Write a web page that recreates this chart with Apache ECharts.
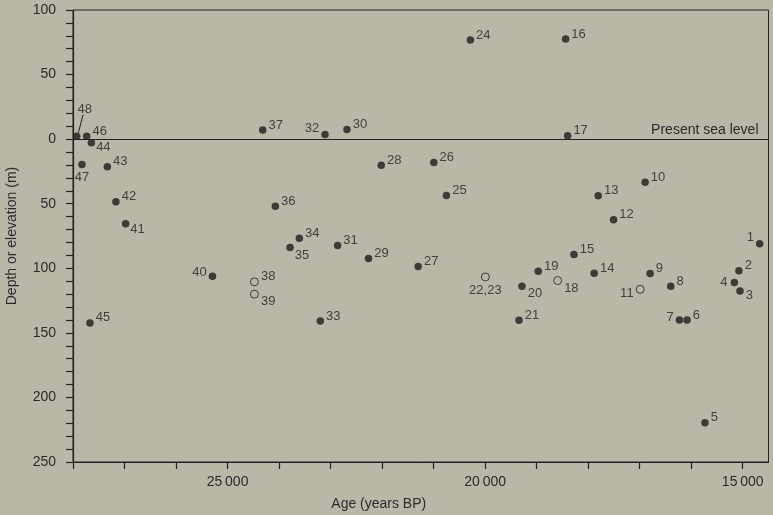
<!DOCTYPE html>
<html><head><meta charset="utf-8">
<script src="https://cdn.jsdelivr.net/npm/echarts@6/dist/echarts.min.js"></script>
<style>html,body{margin:0;padding:0;background:#bab7a8;}#c{width:773px;height:515px;}</style>
</head><body><div id="c"></div>
<script>
// ---- data ----
const pointLabels = ['1','2','3','4','5','6','7','8','9','10','11','12','13','14','15','16','17','18','19','20','21','22,23','24','25','26','27','28','29','30','31','32','33','34','35','36','37','38','39','40','41','42','43','44','45','46','47','48'];
const ages = [14672,15074,15054,15163,15733,16081,16229,16397,16798,16895,16992,17508,17806,17884,18277,18438,18399,18593,18969,19285,19343,19996,20287,20752,20996,21300,22017,22264,22682,22864,23109,23200,23607,23787,24072,24318,24479,24479,25293,26979,27167,27333,27643,27671,27734,27826,27928];
const depths = [-81,-102,-117.5,-111,-219.6,-140,-140,-114,-104,-33.3,-116.3,-62.5,-43.9,-103.9,-89.4,77.5,2.6,-109.5,-102.3,-114,-140.3,-106.7,76.7,-43.6,-18.1,-98.7,-20.2,-92.5,7.5,-82.4,3.6,-140.8,-76.7,-83.9,-51.9,7,-110.5,-120,-106.2,-65.6,-48.5,-21.4,-2.8,-142.3,2.3,-19.6,2.3];
const hollowPoints = ['11','18','22,23','38','39'];
const xTickValues = [15000,16000,17000,18000,19000,20000,21000,22000,23000,24000,25000,26000,27000,28000];
const xLabelValues = [15000,20000,25000];
const yLabelValues = [100,50,0,-50,-100,-150,-200,-250];
const seaLevelText = 'Present sea level';
const xAxisTitle = 'Age (years BP)';
const yAxisTitle = 'Depth or elevation (m)';
const leaderPoint = '48';

// ---- styles ----
const FONT = '"Liberation Sans", Arial, Helvetica, sans-serif';
const INK = '#222';
const labelStyleDefault = {position:'right', distance:2, offset:[0,-5]};
const labelStyles = {
  '1': {position:'left', distance:2, offset:[0,-6]},
  '3': {position:'right', distance:2, offset:[0,5]},
  '4': {position:'left', distance:3, offset:[0,0]},
  '7': {position:'left', distance:2, offset:[0,-3]},
  '11': {position:'left', distance:2, offset:[0,4]},
  '18': {position:'right', distance:2, offset:[0,8]},
  '20': {position:'right', distance:2, offset:[0,7]},
  '22,23': {position:'bottom', distance:2, offset:[0,0]},
  '32': {position:'left', distance:2, offset:[0,-6]},
  '35': {position:'right', distance:1, offset:[0,8]},
  '39': {position:'right', distance:2, offset:[0,7]},
  '40': {position:'left', distance:2, offset:[0,-4]},
  '41': {position:'right', distance:1, offset:[0,6]},
  '44': {position:'right', distance:1, offset:[0,5]},
  '47': {position:'bottom', distance:3, offset:[0,0]},
  '48': {position:'top', distance:4, offset:[8,-13]}
};

function item(i){
  const name = pointLabels[i];
  const ls = Object.assign({}, labelStyleDefault, labelStyles[name] || {});
  return {name:name, value:[ages[i], depths[i]], label:ls};
}
const solidData = [], hollowData = [];
pointLabels.forEach((n,i)=>{ (hollowPoints.includes(n)?hollowData:solidData).push(item(i)); });
const leaderIdx = pointLabels.indexOf(leaderPoint);

const labelCommon = {show:true, formatter:'{b}', color:INK, fontSize:13, fontFamily:FONT};

const chart = echarts.init(document.getElementById('c'), null, {renderer:'canvas'});
chart.setOption({
  backgroundColor:'#bab7a8',
  animation:false,
  grid:{left:73, right:4.5, top:10, bottom:53, show:true, borderColor:INK, borderWidth:1, containLabel:false, outerBoundsMode:'none'},
  xAxis:{
    type:'value', inverse:true, min:14500, max:28000,
    name:xAxisTitle, nameLocation:'middle', nameGap:35,
    nameTextStyle:{color:'#2a2a2a', fontSize:14, fontFamily:FONT, padding:[0,84,0,0]},
    axisLine:{show:true, onZero:false, lineStyle:{color:INK, width:1.2}},
    axisTick:{show:true, inside:false, length:7, customValues:xTickValues, lineStyle:{color:INK, width:1.2}},
    axisLabel:{show:true, margin:13, customValues:xLabelValues, color:'#2a2a2a', fontSize:14, fontFamily:FONT,
      formatter:v=>{const s=String(v); return s.slice(0,2)+'\u2009'+s.slice(2);}},
    splitLine:{show:false}
  },
  yAxis:{
    type:'value', min:-250, max:100, interval:10,
    name:yAxisTitle, nameLocation:'middle', nameGap:54, nameRotate:90,
    nameTextStyle:{color:'#2a2a2a', fontSize:14, fontFamily:FONT},
    axisLine:{show:true, onZero:false, lineStyle:{color:INK, width:1.2}},
    axisTick:{show:true, inside:false, length:7, lineStyle:{color:INK, width:1.2}},
    axisLabel:{show:true, margin:17, customValues:yLabelValues, color:'#2a2a2a', fontSize:14, fontFamily:FONT,
      formatter:v=>String(Math.abs(v))},
    splitLine:{show:false}
  },
  series:[
    {
      type:'scatter', name:'solid', symbol:'circle', symbolSize:7.5,
      itemStyle:{color:'#1c1c1c'},
      label:labelCommon,
      data:solidData,
      markLine:{
        silent:true, symbol:'none',
        lineStyle:{color:INK, width:1.2, type:'solid'},
        label:{show:true, position:'insideStartTop', formatter:seaLevelText, color:'#2a2a2a', fontSize:14, fontFamily:FONT, distance:[10,2]},
        data:[{yAxis:0}]
      },
      z:3
    },
    {
      type:'scatter', name:'hollow', symbol:'circle', symbolSize:8,
      itemStyle:{color:'rgba(0,0,0,0)', borderColor:'#1c1c1c', borderWidth:1},
      label:labelCommon,
      data:hollowData,
      z:3
    },
    {
      type:'custom', name:'leader', silent:true,
      data:[[ages[leaderIdx], depths[leaderIdx]]],
      renderItem:(params, api)=>{
        const p = api.coord([api.value(0), api.value(1)]);
        return {type:'line', shape:{x1:p[0]+1.7, y1:p[1]-3.5, x2:p[0]+6.3, y2:p[1]-21.5},
          style:{stroke:INK, lineWidth:1}};
      },
      z:2
    }
  ]
});
</script></body></html>
